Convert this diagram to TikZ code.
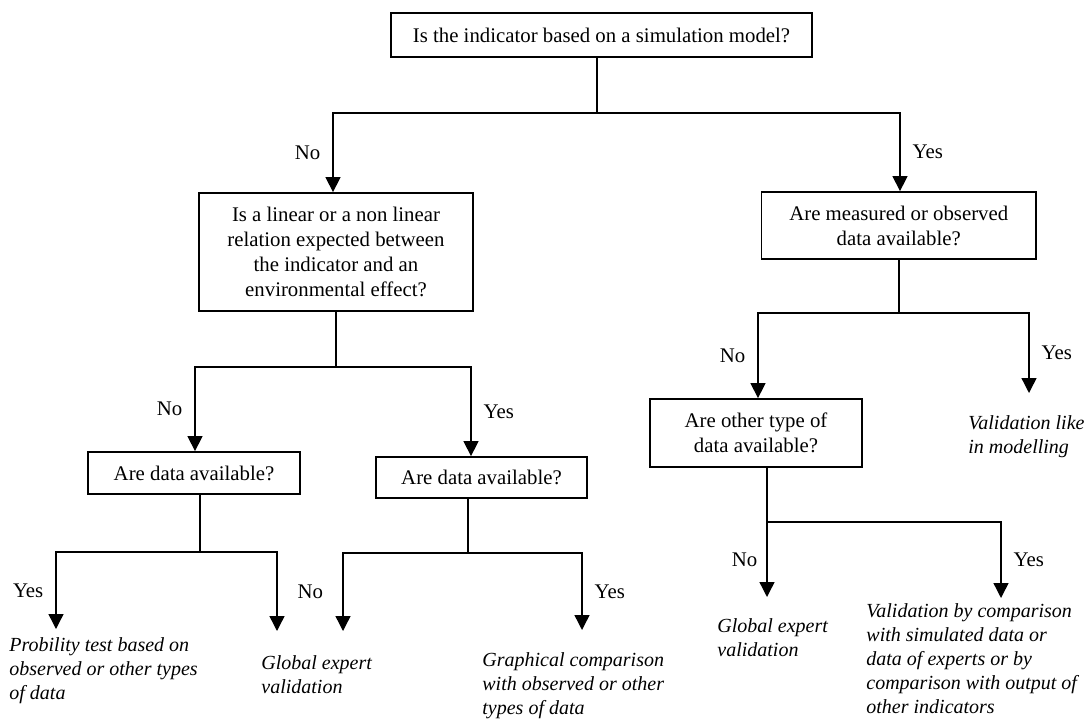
\documentclass[tikz,border=0pt]{standalone}
\usepackage{fontspec}
\setmainfont{Liberation Serif}
\usetikzlibrary{arrows.meta}

\tikzset{
  qbox/.style={draw, line width=0.9pt, align=center, inner sep=0pt},
  leaf/.style={align=left, anchor=north west, inner xsep=0pt, inner ysep=11.2pt, font=\itshape},
  link/.style={line width=0.7pt},
  arr/.style={link, -{Triangle[length=7.5pt,width=7.5pt]}},
  yn/.style={midway, inner sep=0pt}
}

\begin{document}
\begin{tikzpicture}[x=0.5pt, y=-0.5pt, font=\fontsize{10.4}{12.5}\selectfont]
	\useasboundingbox (0,0) rectangle (1091,722);
	
	% questions
	\node[qbox, minimum width=210.5pt, minimum height=22pt] (q0) at (601.5,35) {Is the indicator based on a simulation model?};
	\node[qbox, minimum width=137pt, minimum height=59pt] (qlin) at (336,252) {Is a linear or a non linear\\relation expected between\\the indicator and an\\environmental effect?};
	\node[qbox, minimum width=137.25pt, minimum height=33.5pt] (qmeas) at (898.75,225.5) {Are measured or observed\\data available?};
	\node[qbox, minimum width=106pt, minimum height=21pt] (qdataA) at (194,473) {Are data available?};
	\node[qbox, minimum width=105.5pt, minimum height=20.5pt] (qdataB) at (481.5,477.5) {Are data available?};
	\node[qbox, minimum width=106pt, minimum height=34pt] (qother) at (756,433) {Are other type of\\data available?};
	
	% answers
	\node[leaf, inner ysep=4.2pt] (aprob) at (9,629) {Probility test based on\\observed or other types\\of data};
	\node[leaf, inner ysep=12.2pt] (aexpA) at (261,631) {Global expert\\validation};
	\node[leaf] (agraph) at (482,630) {Graphical comparison\\with observed or other\\types of data};
	\node[leaf] (alike) at (968,393) {Validation like\\in modelling};
	\node[leaf, inner ysep=10.7pt] (aexpB) at (717,597) {Global expert\\validation};
	\node[leaf, inner ysep=2.7pt] (asim) at (866,598) {Validation by comparison\\with simulated data or\\data of experts or by\\comparison with output of\\other indicators};
	
	% branch points
	\coordinate (s0) at (597,113); \coordinate (s0l) at (333,113); \coordinate (s0r) at (900,113);
	\coordinate (s1) at (336,367); \coordinate (s1l) at (195,367); \coordinate (s1r) at (471,367);
	\coordinate (s2) at (899,313); \coordinate (s2l) at (758,313); \coordinate (s2r) at (1029,313);
	\coordinate (s3) at (200,552); \coordinate (s3l) at (56,552);  \coordinate (s3r) at (277,552);
	\coordinate (s4) at (468,553); \coordinate (s4l) at (343,553); \coordinate (s4r) at (582,553);
	\coordinate (s5) at (767,522); \coordinate (s5r) at (1001,522);
	
	% simulation model?
	\draw[arr] (q0.south -| s0) |- (s0l) -- (qlin.north -| s0l) node[yn, left=6pt] {No};
	\draw[arr] (q0.south -| s0) |- (s0r) -- (qmeas.north -| s0r) node[yn, right=6pt] {Yes};
	
	% linear relation?
	\draw[arr] (qlin.south -| s1) |- (s1l) -- (qdataA.north -| s1l) node[yn, left=6pt] {No};
	\draw[arr] (qlin.south -| s1) |- (s1r) -- (qdataB.north -| s1r) node[yn, right=6pt] {Yes};
	
	% measured data?
	\draw[arr] (qmeas.south -| s2) |- (s2l) -- (qother.north -| s2l) node[yn, left=6pt] {No};
	\draw[arr] (qmeas.south -| s2) |- (s2r) -- (alike.north -| s2r) node[yn, right=6pt] {Yes};
	
	% data available? (left)
	\draw[arr] (qdataA.south -| s3) |- (s3l) -- (aprob.north -| s3l) node[yn, left=6pt] {Yes};
	\draw[arr] (qdataA.south -| s3) |- (s3r) -- (aexpA.north -| s3r) node[yn, right=10pt] {No};
	
	% data available? (right)
	\draw[arr] (qdataB.south -| s4) |- (s4l) -- (aexpA.north -| s4l);
	\draw[arr] (qdataB.south -| s4) |- (s4r) -- (agraph.north -| s4r) node[yn, right=6pt] {Yes};
	
	% other data?
	\draw[arr] (qother.south -| s5) -- (s5) -- (aexpB.north -| s5) node[yn, left=4.5pt] {No};
	\draw[arr] (qother.south -| s5) |- (s5r) -- (asim.north -| s5r) node[yn, right=6pt] {Yes};
\end{tikzpicture}
\end{document}
